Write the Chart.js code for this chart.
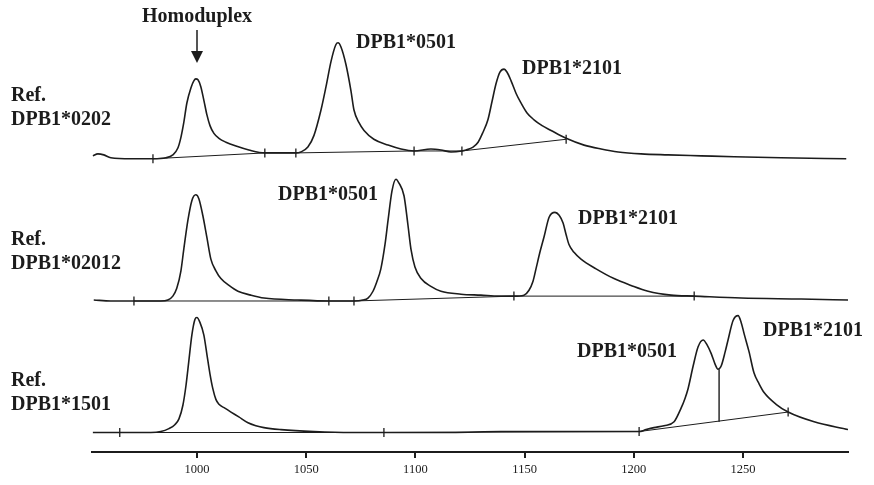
<!DOCTYPE html>
<html>
<head>
<meta charset="utf-8">
<script src="https://cdn.jsdelivr.net/npm/chart.js@4/dist/chart.umd.min.js"></script>
<style>
  html, body { margin: 0; padding: 0; background: #ffffff; }
  #wrap { width: 874px; height: 485px; position: relative; }
</style>
</head>
<body>
<div id="wrap"><canvas id="c" width="874" height="485"></canvas></div>
<script>
// ---------- DATA ----------
const xTicks = [1000, 1050, 1100, 1150, 1200, 1250];
const refNames = ['DPB1*0202', 'DPB1*02012', 'DPB1*1501'];
const peakNames = ['Homoduplex', 'DPB1*0501', 'DPB1*2101'];

// Trace 1: Ref. DPB1*0202 (retention time, signal)
const t1X = [952.4,954.7,957.4,960.6,969.8,979.9,985.8,989.0,991.3,992.7,994.0,995.4,997.3,998.6,999.5,1000.5,1001.8,1003.2,1004.6,1006.0,1007.8,1010.1,1013.3,1017.9,1023.8,1031.1,1038.5,1045.3,1047.6,1050.8,1053.6,1056.8,1059.1,1061.4,1063.6,1064.6,1065.9,1068.2,1070.5,1071.9,1074.2,1076.5,1081.0,1087.5,1093.4,1099.4,1107.1,1111.7,1116.3,1121.3,1123.2,1126.4,1128.7,1130.9,1133.2,1135.1,1136.9,1138.7,1140.6,1141.9,1143.8,1146.1,1148.4,1151.1,1154.3,1158.0,1162.1,1169.0,1177.2,1185.0,1192.8,1203.3,1215.7,1230.8,1245.9,1267.4,1297.2];
const t1Y = [3,5,4,1,0,0,1,4,11,22,37,57,73,80,82,81,74,60,45,34,26,21,17,13,9,6,6,6,7,12,24,50,74,100,117,119,115,97,70,50,37,29,20,14,10,8,10,9,7,8,9,12,17,27,40,59,77,89,92,89,80,67,57,47,40,34,29,21,14,10,7,5,4,3,2,1,0];
const m1X = [979.9, 1031.1, 1045.3, 1099.4, 1121.3, 1169.0];
const m1Y = [0, 6, 6, 8, 8, 20];

// Trace 2: Ref. DPB1*02012
const t2X = [952.8,960.6,971.2,978.9,983.5,986.7,989.0,990.8,992.7,994.0,995.9,997.7,999.5,1000.9,1002.7,1004.6,1006.4,1008.7,1011.0,1014.7,1018.8,1024.7,1030.7,1046.2,1060.4,1071.9,1076.0,1078.3,1080.6,1082.4,1084.2,1086.1,1087.5,1089.3,1091.1,1092.5,1094.8,1096.6,1098.0,1099.8,1102.6,1107.1,1111.7,1120.9,1130.0,1138.3,1145.1,1149.7,1152.0,1153.8,1155.2,1157.1,1158.9,1161.2,1163.9,1165.8,1167.6,1169.0,1170.3,1172.6,1175.8,1182.7,1190.9,1198.7,1206.5,1217.0,1227.6,1249.1,1276.6,1298.1];
const t2Y = [1,0,0,0,0,1,5,13,31,53,83,103,109,105,88,65,43,31,23,16,10,6,3,1,0,0,1,3,10,20,33,58,83,113,125,121,108,78,53,35,23,15,10,7,6,5,5,6,11,20,33,51,66,86,91,88,80,68,58,50,43,33,23,16,10,6,5,3,2,1];
const m2X = [971.2, 1060.4, 1071.9, 1145.1, 1227.6];
const m2Y = [0, 0, 0, 5, 5];

// Trace 3: Ref. DPB1*1501
const t3X = [952.4,964.7,978.9,983.5,987.2,989.9,991.8,993.6,995.0,996.3,997.7,999.1,1000.0,1001.4,1003.2,1004.6,1006.0,1007.3,1008.7,1010.1,1012.8,1015.6,1019.2,1023.4,1027.0,1030.7,1038.5,1053.6,1070.5,1085.6,1116.3,1139.2,1166.7,1202.4,1205.6,1209.2,1213.8,1218.4,1221.6,1223.4,1224.8,1227.1,1229.4,1231.7,1233.5,1235.4,1237.2,1238.5,1239.9,1241.8,1243.1,1245.4,1247.7,1249.1,1250.5,1252.7,1255.0,1257.3,1259.6,1265.1,1270.6,1282.5,1298.1];
const t3Y = [0,0,0,1,4,8,14,28,48,73,100,116,118,113,100,80,60,45,34,29,25,21,16,10,7,5,3,1,0,0,0,1,1,1,3,5,7,11,25,35,45,68,88,95,90,81,70,65,68,83,95,115,120,113,101,83,61,50,41,29,21,11,3];
const m3X = [964.7, 1085.6, 1202.4, 1270.6];
const m3Y = [0, 0, 1, 21];
const drop3X = [1239.0, 1239.0];
const drop3Y = [65, 11];

// ---------- LAYOUT / STYLE ----------
const traceOffsets = [301, 155, 20];   // vertical stacking of the three traces
const INK = '#1c1c1c';
const zip = (xs, ys, off) => xs.map((x, i) => ({ x: x, y: ys[i] + off }));

const traces = [
  { x: t1X, y: t1Y, mx: m1X, my: m1Y },
  { x: t2X, y: t2Y, mx: m2X, my: m2Y },
  { x: t3X, y: t3Y, mx: m3X, my: m3Y }
];

const datasets = [];
traces.forEach((t, i) => {
  const off = traceOffsets[i];
  datasets.push({
    data: zip(t.x, t.y, off), showLine: true, borderColor: INK, borderWidth: 1.6,
    pointRadius: 0, cubicInterpolationMode: 'monotone', fill: false
  });
  datasets.push({
    data: zip(t.mx, t.my, off), showLine: true, borderColor: INK, borderWidth: 1,
    tension: 0, pointStyle: 'line', rotation: 90, pointRadius: 4.5,
    pointBorderWidth: 1.3, pointBorderColor: INK, pointBackgroundColor: INK
  });
});
datasets.push({
  data: zip(drop3X, drop3Y, traceOffsets[2]), showLine: true, borderColor: INK,
  borderWidth: 1.4, pointRadius: 0, tension: 0
});

// text annotations (pixel placement)
const textLabels = [
  { t: peakNames[0], x: 142, y: 22 },
  { t: peakNames[1], x: 356, y: 48 },
  { t: peakNames[2], x: 522, y: 74 },
  { t: 'Ref.', x: 11, y: 101 },
  { t: refNames[0], x: 11, y: 125 },
  { t: peakNames[1], x: 278, y: 200 },
  { t: peakNames[2], x: 578, y: 224 },
  { t: 'Ref.', x: 11, y: 245 },
  { t: refNames[1], x: 11, y: 269 },
  { t: peakNames[1], x: 577, y: 357 },
  { t: peakNames[2], x: 763, y: 336 },
  { t: 'Ref.', x: 11, y: 386 },
  { t: refNames[2], x: 11, y: 410 }
];

const annotPlugin = {
  id: 'annot',
  afterDraw(chart) {
    const ctx = chart.ctx;
    ctx.save();
    ctx.fillStyle = INK;
    ctx.font = 'bold 20px "Liberation Serif", "Times New Roman", serif';
    ctx.textBaseline = 'alphabetic';
    ctx.textAlign = 'left';
    textLabels.forEach(l => ctx.fillText(l.t, l.x, l.y));
    // arrow under "Homoduplex"
    const ax = 197;
    ctx.strokeStyle = INK;
    ctx.lineWidth = 1.5;
    ctx.beginPath(); ctx.moveTo(ax, 30); ctx.lineTo(ax, 53); ctx.stroke();
    ctx.beginPath(); ctx.moveTo(ax - 6, 51); ctx.lineTo(ax + 6, 51); ctx.lineTo(ax, 63); ctx.closePath(); ctx.fill();
    ctx.restore();
  }
};

new Chart(document.getElementById('c'), {
  type: 'scatter',
  data: { datasets: datasets },
  plugins: [annotPlugin],
  options: {
    responsive: false,
    animation: false,
    devicePixelRatio: 1,
    layout: { padding: { left: 92, right: 26, top: 0, bottom: 4 } },
    plugins: { legend: { display: false }, tooltip: { enabled: false } },
    scales: {
      x: {
        type: 'linear', min: 952, max: 1298,
        afterBuildTicks: s => { s.ticks = xTicks.map(v => ({ value: v })); },
        grid: { drawOnChartArea: false, drawTicks: true, tickLength: 6, color: INK, lineWidth: 2 },
        border: { display: true, color: INK, width: 2 },
        ticks: {
          color: INK, padding: 4, maxRotation: 0,
          font: { family: '"Liberation Serif", serif', size: 12.5 },
          callback: v => String(v)
        }
      },
      y: { display: false, min: 0, max: 458 }
    }
  }
});
</script>
</body>
</html>
